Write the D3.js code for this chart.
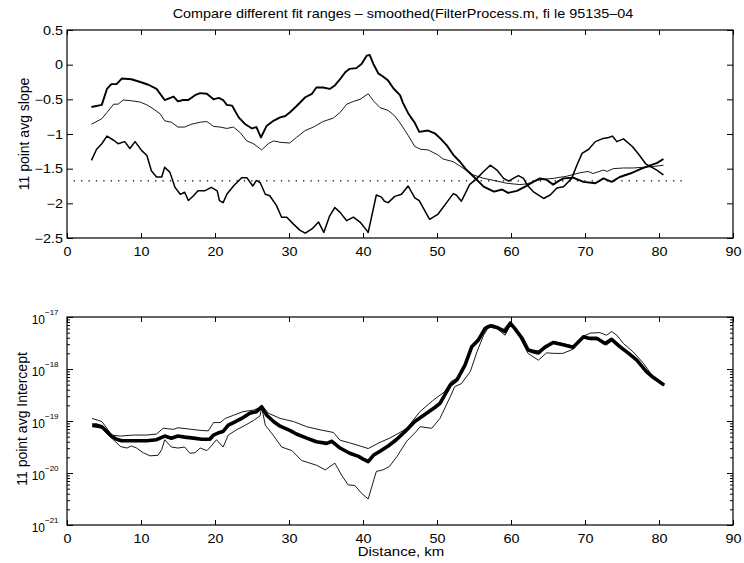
<!DOCTYPE html>
<html><head><meta charset="utf-8">
<script src="https://cdn.jsdelivr.net/npm/d3@7"></script>
<style>body{margin:0;background:#fff}svg{display:block}text{font-family:"Liberation Sans",Arial,Helvetica,sans-serif;fill:#000}</style>
</head><body><svg id="c" width="744" height="563"></svg>
<script>
// ---------- data ----------
const titleText = "Compare different fit ranges \u2013 smoothed(FilterProcess.m, fi le 95135\u201304";
const xLabel = "Distance, km";
const topYLabel = "11 point avg slope";
const botYLabel = "11 point avg Intercept";
const distTicks = [0,10,20,30,40,50,60,70,80,90];
const slopeTicks = [0.5,0,-0.5,-1,-1.5,-2,-2.5];
const interceptDecades = [-21,-20,-19,-18,-17];
const refSlope = -1.675;
const refKm = [0.9, 83.7];

// top panel: [km, slope]
const slopeThick = [[3.3,-0.61],[4.7,-0.58],[5.4,-0.35],[6.0,-0.28],[6.7,-0.28],[7.4,-0.20],[8.7,-0.21],[9.9,-0.25],[11.0,-0.29],[12.1,-0.35],[13.2,-0.51],[14.4,-0.46],[15.0,-0.53],[15.7,-0.51],[16.4,-0.51],[17.3,-0.44],[18.0,-0.41],[18.9,-0.42],[19.8,-0.50],[20.5,-0.48],[21.1,-0.51],[21.6,-0.58],[22.3,-0.59],[23.2,-0.76],[24.1,-0.86],[25.0,-0.92],[25.6,-0.90],[26.2,-1.05],[27.0,-0.88],[27.9,-0.81],[28.8,-0.76],[29.5,-0.74],[30.1,-0.69],[31.0,-0.60],[32.2,-0.47],[33.1,-0.42],[33.7,-0.33],[34.6,-0.33],[35.5,-0.35],[36.2,-0.30],[36.9,-0.21],[37.6,-0.11],[38.2,-0.06],[39.1,-0.05],[39.8,0.01],[40.5,0.13],[40.9,0.14],[41.4,0.01],[42.1,-0.13],[42.7,-0.17],[43.4,-0.23],[44.1,-0.34],[45.0,-0.44],[45.4,-0.55],[46.1,-0.70],[47.0,-0.84],[47.6,-0.97],[48.8,-0.95],[49.7,-0.99],[50.6,-1.08],[51.3,-1.16],[52.2,-1.30],[53.1,-1.40],[54.0,-1.52],[54.9,-1.61],[56.3,-1.76],[57.7,-1.83],[58.8,-1.80],[59.6,-1.85],[60.8,-1.82],[61.9,-1.76],[63.0,-1.69],[63.9,-1.64],[64.8,-1.66],[65.7,-1.73],[66.4,-1.68],[67.1,-1.64],[68.4,-1.63],[69.8,-1.69],[71.4,-1.71],[72.5,-1.64],[73.6,-1.69],[74.7,-1.62],[76.1,-1.57],[77.4,-1.51],[78.6,-1.46],[79.7,-1.42],[80.6,-1.36]];
const slopeThin = [[3.3,-0.86],[4.7,-0.78],[5.4,-0.69],[6.3,-0.57],[6.9,-0.57],[7.6,-0.51],[8.7,-0.52],[9.9,-0.54],[10.8,-0.58],[11.7,-0.64],[12.6,-0.71],[13.2,-0.81],[14.1,-0.83],[15.0,-0.90],[15.9,-0.90],[16.8,-0.86],[18.0,-0.83],[18.9,-0.82],[19.8,-0.89],[20.7,-0.90],[21.6,-0.92],[22.5,-0.90],[23.4,-0.98],[24.3,-1.10],[25.2,-1.14],[26.3,-1.23],[27.2,-1.14],[27.9,-1.10],[28.8,-1.12],[30.1,-1.13],[31.0,-1.05],[32.2,-0.95],[33.3,-0.90],[34.6,-0.82],[36.0,-0.77],[36.9,-0.69],[37.8,-0.57],[38.7,-0.53],[39.6,-0.50],[40.7,-0.42],[41.4,-0.52],[42.3,-0.62],[43.4,-0.66],[44.3,-0.74],[45.0,-0.84],[46.1,-1.02],[47.0,-1.18],[47.8,-1.22],[48.8,-1.23],[50.1,-1.30],[50.8,-1.36],[52.2,-1.40],[53.5,-1.49],[54.9,-1.59],[56.3,-1.64],[57.7,-1.67],[59.4,-1.71],[61.2,-1.73],[62.1,-1.72],[63.9,-1.66],[65.7,-1.64],[67.5,-1.61],[69.3,-1.56],[70.4,-1.54],[71.1,-1.57],[72.5,-1.52],[73.0,-1.54],[73.8,-1.50],[75.2,-1.49],[76.5,-1.49],[77.9,-1.48],[79.2,-1.47],[80.6,-1.45]];
const slopeMid = [[3.3,-1.38],[4.0,-1.22],[4.7,-1.14],[5.4,-1.03],[6.3,-1.09],[6.9,-1.14],[7.8,-1.11],[8.5,-1.21],[9.2,-1.11],[10.1,-1.24],[10.8,-1.31],[11.4,-1.53],[12.1,-1.62],[12.8,-1.62],[13.2,-1.48],[13.9,-1.55],[14.6,-1.77],[15.3,-1.87],[15.9,-1.84],[16.4,-1.96],[17.1,-1.89],[17.7,-1.82],[18.6,-1.82],[19.5,-1.77],[20.3,-1.82],[20.6,-1.96],[21.1,-1.99],[21.6,-1.87],[22.5,-1.75],[23.6,-1.63],[24.3,-1.63],[25.1,-1.75],[25.6,-1.67],[26.1,-1.70],[26.8,-1.87],[27.4,-1.89],[28.3,-2.03],[29.0,-2.20],[29.7,-2.20],[30.6,-2.30],[31.5,-2.39],[32.2,-2.43],[33.1,-2.37],[34.0,-2.27],[34.7,-2.42],[35.5,-2.18],[36.2,-2.06],[36.9,-2.13],[37.8,-2.25],[38.7,-2.20],[39.6,-2.27],[40.5,-2.39],[40.7,-2.42],[41.8,-1.88],[42.5,-1.91],[42.9,-1.97],[43.4,-1.99],[44.3,-1.90],[45.2,-1.87],[46.1,-1.75],[47.0,-1.92],[47.6,-1.96],[49.0,-2.23],[50.1,-2.16],[51.3,-1.99],[52.2,-1.86],[52.6,-1.88],[53.3,-1.97],[54.4,-1.73],[55.4,-1.64],[56.3,-1.54],[57.2,-1.45],[58.1,-1.52],[59.0,-1.64],[59.7,-1.68],[60.3,-1.64],[61.0,-1.60],[61.7,-1.64],[62.2,-1.74],[63.0,-1.83],[64.4,-1.93],[65.3,-1.88],[66.2,-1.78],[67.1,-1.76],[68.2,-1.64],[68.9,-1.45],[69.6,-1.28],[70.5,-1.22],[71.4,-1.11],[72.3,-1.07],[73.2,-1.05],[73.7,-1.03],[74.3,-1.11],[75.2,-1.07],[76.4,-1.18],[77.3,-1.30],[78.2,-1.43],[78.7,-1.46],[79.7,-1.52],[80.6,-1.59]];

// bottom panel: [km, log10(intercept)]
const interceptThick = [[3.4,-19.08],[4.0,-19.08],[4.7,-19.11],[5.4,-19.20],[6.0,-19.29],[6.7,-19.35],[7.4,-19.38],[9.4,-19.38],[10.8,-19.38],[12.1,-19.36],[13.2,-19.29],[14.1,-19.33],[15.0,-19.29],[15.9,-19.31],[17.1,-19.33],[18.2,-19.35],[19.3,-19.35],[19.8,-19.27],[20.6,-19.22],[21.1,-19.20],[21.8,-19.08],[22.5,-19.03],[23.6,-18.95],[24.7,-18.85],[25.6,-18.82],[26.3,-18.73],[27.0,-18.89],[27.9,-19.01],[28.8,-19.10],[30.1,-19.18],[31.0,-19.25],[32.4,-19.33],[33.7,-19.40],[35.1,-19.43],[35.8,-19.39],[36.9,-19.52],[38.2,-19.62],[39.4,-19.68],[40.1,-19.74],[40.7,-19.78],[41.4,-19.66],[42.3,-19.58],[43.4,-19.48],[44.5,-19.36],[45.7,-19.20],[47.0,-19.01],[48.4,-18.87],[49.7,-18.74],[50.4,-18.66],[51.8,-18.31],[52.7,-18.21],[53.8,-17.92],[54.7,-17.57],[55.6,-17.44],[56.5,-17.22],[57.2,-17.17],[58.1,-17.20],[59.2,-17.28],[59.9,-17.12],[60.5,-17.22],[61.5,-17.41],[62.3,-17.63],[63.0,-17.67],[63.7,-17.69],[64.6,-17.58],[65.7,-17.49],[66.9,-17.53],[68.4,-17.58],[69.8,-17.38],[70.5,-17.41],[71.6,-17.41],[72.7,-17.51],[73.6,-17.43],[74.7,-17.57],[75.9,-17.70],[77.0,-17.83],[78.3,-18.05],[79.2,-18.16],[80.7,-18.31]];
const interceptUpper = [[3.4,-18.95],[4.7,-19.01],[5.4,-19.14],[6.0,-19.27],[7.2,-19.29],[9.0,-19.27],[10.8,-19.27],[12.1,-19.25],[13.0,-19.14],[14.4,-19.16],[15.0,-19.13],[16.2,-19.15],[18.0,-19.18],[19.1,-19.19],[19.8,-19.03],[20.7,-19.03],[21.4,-18.95],[22.5,-18.89],[23.8,-18.82],[25.2,-18.79],[26.1,-18.74],[26.3,-18.69],[27.2,-18.85],[28.8,-18.95],[30.6,-19.01],[32.4,-19.11],[34.2,-19.17],[36.0,-19.22],[36.9,-19.37],[38.2,-19.42],[39.6,-19.48],[40.7,-19.53],[42.3,-19.41],[43.6,-19.33],[45.0,-19.22],[45.9,-19.14],[47.7,-18.82],[49.4,-18.61],[51.0,-18.44],[51.9,-18.24],[53.1,-18.15],[54.0,-17.86],[54.9,-17.54],[55.8,-17.41],[56.7,-17.17],[57.6,-17.15],[58.9,-17.25],[59.9,-17.09],[60.8,-17.25],[62.3,-17.62],[63.7,-17.65],[65.7,-17.47],[67.0,-17.51],[68.4,-17.56],[69.8,-17.37],[70.7,-17.31],[72.0,-17.30],[72.9,-17.35],[73.6,-17.28],[74.3,-17.35],[75.2,-17.51],[76.5,-17.67],[77.9,-17.89],[79.2,-18.15],[80.7,-18.31]];
const interceptLower = [[3.4,-19.11],[4.7,-19.14],[5.4,-19.25],[6.5,-19.39],[7.2,-19.49],[8.1,-19.52],[8.7,-19.48],[9.4,-19.52],[10.3,-19.61],[11.2,-19.67],[12.3,-19.66],[12.8,-19.55],[13.2,-19.36],[14.1,-19.50],[15.0,-19.52],[15.9,-19.50],[16.6,-19.62],[17.3,-19.61],[18.0,-19.52],[18.9,-19.57],[19.5,-19.48],[20.2,-19.36],[21.1,-19.50],[21.8,-19.27],[22.9,-19.17],[24.1,-19.08],[25.2,-18.99],[26.1,-18.90],[26.3,-18.73],[26.8,-19.08],[27.9,-19.28],[29.0,-19.50],[30.4,-19.57],[31.7,-19.76],[32.6,-19.80],[33.7,-19.85],[34.9,-19.94],[36.2,-19.81],[37.1,-20.04],[38.0,-20.23],[38.9,-20.24],[39.8,-20.39],[40.7,-20.50],[41.8,-19.97],[42.7,-19.94],[43.6,-19.87],[44.6,-19.68],[45.9,-19.39],[47.2,-19.20],[47.7,-19.11],[49.3,-19.14],[50.4,-18.95],[51.8,-18.53],[52.4,-18.34],[53.3,-18.28],[54.5,-18.05],[55.4,-17.67],[56.3,-17.35],[57.0,-17.19],[58.1,-17.22],[59.2,-17.35],[59.9,-17.15],[60.8,-17.28],[62.3,-17.70],[63.7,-17.83],[64.8,-17.69],[65.9,-17.70],[67.0,-17.70],[68.4,-17.62],[69.8,-17.39],[70.7,-17.44],[72.0,-17.44],[72.9,-17.54],[73.8,-17.44],[75.2,-17.62],[76.5,-17.76],[77.9,-17.96],[79.2,-18.18],[80.7,-18.31]];

// ---------- drawing ----------
const svg = d3.select("#c");
const L = 67, R = 733;
const topP = {t:30, b:238}, botP = {t:317, b:525};
const x = d3.scaleLinear().domain([0,90]).range([L,R]);
const yTop = d3.scaleLinear().domain([-2.5,0.5]).range([topP.b, topP.t]);
const yBot = d3.scaleLog().domain([1e-21,1e-17]).range([botP.b, botP.t]);
const fmt = v => (v < 0 ? "\u2212" + Math.abs(v) : String(v));
const SX = 1.2;

function scaleText(g, tx, ty, anchor) {
  g.selectAll(".tick text").attr("x",0).attr("y",0).attr("dy",null)
    .attr("text-anchor",anchor).attr("transform",`translate(${tx},${ty}) scale(${SX},1)`)
    .style("font-size","12px").attr("fill","#000");
}
function cleanAxis(g){ g.select(".domain").remove(); g.selectAll(".tick line").attr("stroke","#000").attr("stroke-width",1); }

function frame(p){
  svg.append("rect").attr("x",L).attr("y",p.t).attr("width",R-L).attr("height",p.b-p.t)
    .attr("fill","none").attr("stroke","#000").attr("stroke-width",1.2);
}

// ---- top panel ----
{
  const gb = svg.append("g").attr("transform",`translate(0,${topP.b})`)
    .call(d3.axisBottom(x).tickValues(distTicks).tickSize(-5).tickFormat(d3.format("d")));
  cleanAxis(gb); scaleText(gb, 0, 17.5, "middle");
  const gt = svg.append("g").attr("transform",`translate(0,${topP.t})`)
    .call(d3.axisTop(x).tickValues(distTicks).tickSize(-5).tickFormat(""));
  cleanAxis(gt);
  const gl = svg.append("g").attr("transform",`translate(${L},0)`)
    .call(d3.axisLeft(yTop).tickValues(slopeTicks).tickSize(-6).tickFormat(fmt));
  cleanAxis(gl); scaleText(gl, -4, 4.3, "end");
  const gr = svg.append("g").attr("transform",`translate(${R},0)`)
    .call(d3.axisRight(yTop).tickValues(slopeTicks).tickSize(-6).tickFormat(""));
  cleanAxis(gr);

  svg.append("line").attr("x1",x(refKm[0])).attr("x2",x(refKm[1]))
    .attr("y1",yTop(refSlope)).attr("y2",yTop(refSlope))
    .attr("stroke","#000").attr("stroke-width",1.3).attr("stroke-dasharray","1.3,6.1");

  const line = d3.line().x(d=>x(d[0])).y(d=>yTop(d[1]));
  const series = [[slopeThin,0.9],[slopeMid,1.5],[slopeThick,1.9]];
  series.forEach(([d,w]) => svg.append("path").datum(d).attr("d",line)
    .attr("fill","none").attr("stroke","#000").attr("stroke-width",w).attr("stroke-linejoin","round"));
  frame(topP);

  svg.append("text").attr("text-anchor","middle").attr("transform",`translate(24,${(topP.t+topP.b)/2}) rotate(-90)`)
    .attr("dy","0.35em").style("font-size","14px").text(topYLabel);
  svg.append("text").attr("text-anchor","middle").attr("transform",`translate(403,18) scale(1.2,1)`)
    .style("font-size","12px").text(titleText);
}

// ---- bottom panel ----
{
  const gb = svg.append("g").attr("transform",`translate(0,${botP.b})`)
    .call(d3.axisBottom(x).tickValues(distTicks).tickSize(-5).tickFormat(d3.format("d")));
  cleanAxis(gb); scaleText(gb, 0, 17.5, "middle");
  const gt = svg.append("g").attr("transform",`translate(0,${botP.t})`)
    .call(d3.axisTop(x).tickValues(distTicks).tickSize(-5).tickFormat(""));
  cleanAxis(gt);

  const majors = interceptDecades.map(e => Math.pow(10, e));
  const minors = [];
  interceptDecades.slice(0,-1).forEach(e => { for (let k=2;k<=9;k++) minors.push(k*Math.pow(10,e)); });

  const gl = svg.append("g").attr("transform",`translate(${L},0)`)
    .call(d3.axisLeft(yBot).tickValues(majors).tickSize(-6).tickFormat(""));
  cleanAxis(gl);
  const glm = svg.append("g").attr("transform",`translate(${L},0)`)
    .call(d3.axisLeft(yBot).tickValues(minors).tickSize(-3).tickFormat(""));
  cleanAxis(glm);
  const gr = svg.append("g").attr("transform",`translate(${R},0)`)
    .call(d3.axisRight(yBot).tickValues(majors).tickSize(-6).tickFormat(""));
  cleanAxis(gr);
  const grm = svg.append("g").attr("transform",`translate(${R},0)`)
    .call(d3.axisRight(yBot).tickValues(minors).tickSize(-3).tickFormat(""));
  cleanAxis(grm);

  // decade labels 10^e
  gl.selectAll(".tick").each(function(d){
    const e = Math.round(Math.log10(d));
    const g = d3.select(this);
    g.append("text").attr("text-anchor","end").attr("x",-22).attr("y",6)
      .style("font-size","12px").text("10");
    g.append("text").attr("text-anchor","start").attr("x",-22).attr("y",-3)
      .style("font-size","8px").text("\u2212" + Math.abs(e));
  });

  const line = d3.line().x(d=>x(d[0])).y(d=>yBot(Math.pow(10,d[1])));
  const series = [[interceptUpper,0.9],[interceptLower,0.9],[interceptThick,3.6]];
  series.forEach(([d,w]) => svg.append("path").datum(d).attr("d",line)
    .attr("fill","none").attr("stroke","#000").attr("stroke-width",w).attr("stroke-linejoin","round"));
  frame(botP);

  svg.append("text").attr("text-anchor","middle").attr("transform",`translate(22,${(botP.t+botP.b)/2 - 2}) rotate(-90)`)
    .attr("dy","0.35em").style("font-size","14px").text(botYLabel);
  svg.append("text").attr("text-anchor","middle").attr("transform",`translate(401,556) scale(1.25,1)`)
    .style("font-size","12px").text(xLabel);
}
</script></body></html>
